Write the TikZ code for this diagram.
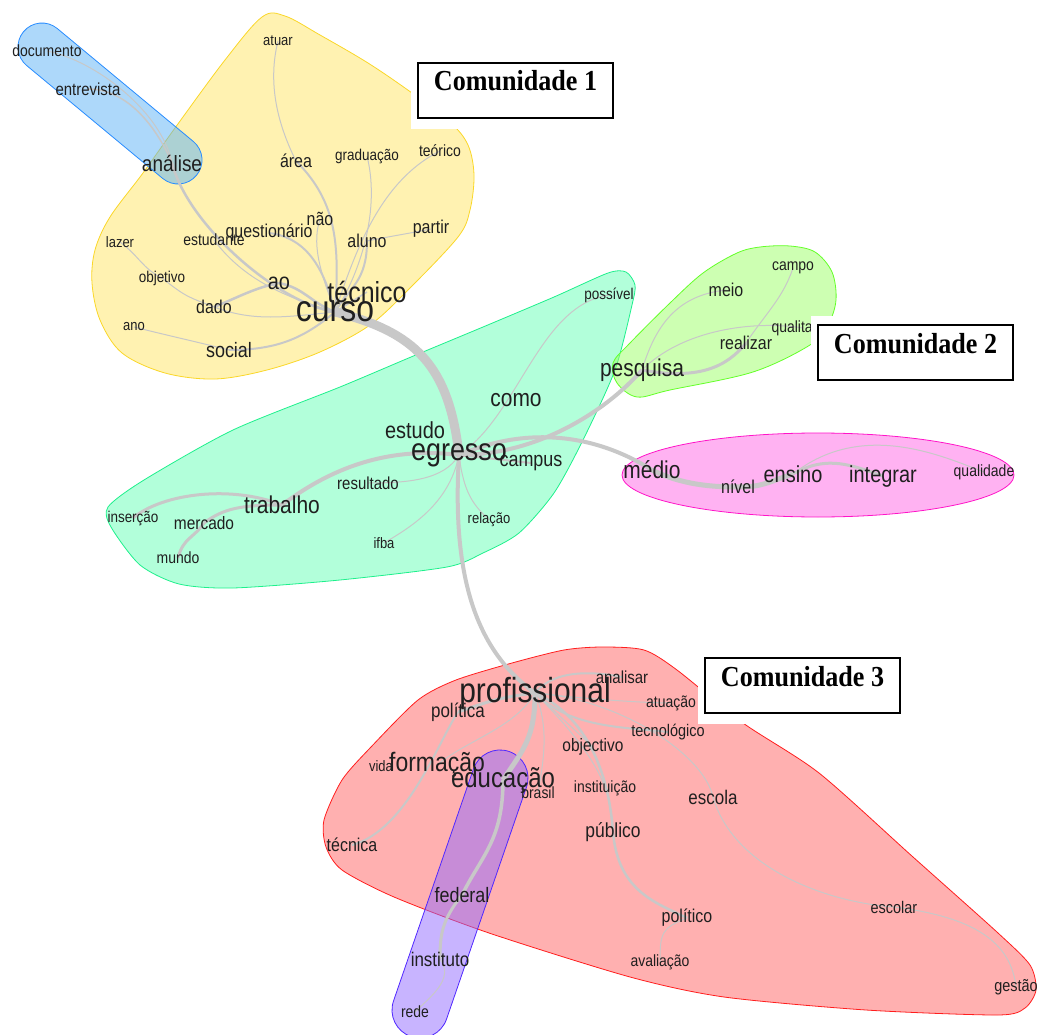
\documentclass[tikz,border=0pt]{standalone}
\usepackage{fontspec}
\setmainfont{Liberation Serif}[FakeStretch=0.9]
\setsansfont{Liberation Sans}[FakeStretch=0.86]
\definecolor{edgegray}{RGB}{200,200,200}
\definecolor{c1line}{RGB}{250,215,40}  \definecolor{c1fill}{RGB}{255,229,100}
\definecolor{c2line}{RGB}{40,140,255}  \definecolor{c2fill}{RGB}{91,177,245}
\definecolor{c3line}{RGB}{30,240,140}  \definecolor{c3fill}{RGB}{101,255,181}
\definecolor{c4line}{RGB}{100,255,40}  \definecolor{c4fill}{RGB}{155,255,101}
\definecolor{c5line}{RGB}{255,20,200}  \definecolor{c5fill}{RGB}{255,101,229}
\definecolor{c6line}{RGB}{255,30,30}   \definecolor{c6fill}{RGB}{255,97,97}
\definecolor{c7line}{RGB}{80,40,255}   \definecolor{c7fill}{RGB}{145,105,255}
\pgfdeclarelayer{hulllayer}
\pgfdeclarelayer{edgelayer}
\pgfsetlayers{hulllayer,edgelayer,main}
\newcommand{\fsz}[1]{\pgfmathsetmacro\fszv{#1*1.16}\fontsize{\fszv}{\fszv}\selectfont}
\begin{document}
\begin{tikzpicture}[x=1pt,y=-1pt,
  wd/.style={inner sep=0pt, text=black!88, font=\sffamily\fsz{#1}},
  ln/.style={draw=edgegray, line width=#1},
  hull/.style={draw=#1line, fill=#1fill, fill opacity=0.5, line width=0.8pt},
  comm/.style={draw, line width=2pt, fill=white, font=\bfseries\fontsize{29}{29}\selectfont,
    minimum width=195pt, inner sep=0pt, text height=28pt, text depth=27pt}]
\useasboundingbox (0,0) rectangle (1039,1035);
% comunidades
\begin{pgfonlayer}{hulllayer}
\filldraw[hull=c1] plot[smooth cycle, tension=0.55] coordinates {(262,17) (285,16) (320,35) (368,63) (412,93) (450,122) (468,145) (474,175) (470,210) (458,237) (410,288) (370,325) (320,352) (267,370) (215,379) (165,373) (122,353) (100,320) (92,283) (95,250) (110,217) (143,173) (175,128) (225,60)};
\filldraw[hull=c2, rounded corners=24pt] (8.2,50.2) -- (181.2,193.8) -- (211.8,156.8) -- (38.8,13.2) -- cycle;
\filldraw[hull=c3] plot[smooth cycle, tension=0.45] coordinates {(608,273) (626,272) (635,285) (632,305) (615,370) (583,440) (554,493) (519,533) (483,553) (447,567) (340,580) (233,588) (179,584) (140,565) (111,527) (108,507) (144,480) (233,430) (340,387) (411,357) (483,327) (554,297)};
\filldraw[hull=c4] plot[smooth cycle, tension=0.55] coordinates {(760,247) (790,246) (815,252) (832,272) (836,300) (828,325) (810,345) (753,372) (670,390) (637,397) (617,383) (613,363) (630,343) (670,303) (703,273) (737,253)};
\filldraw[hull=c5] (818,475) ellipse [x radius=196, y radius=42];
\filldraw[hull=c6] plot[smooth cycle, tension=0.45] coordinates {(564,650) (602,647) (644,650) (677,670) (743,723) (819,773) (913,857) (998,933) (1030,965) (1036,990) (1025,1008) (998,1015) (866,1010) (724,997) (630,977) (489,933) (394,897) (342,870) (326,847) (324,820) (342,780) (371,747) (418,700) (456,680) (512,663)};
\filldraw[hull=c7, rounded corners=28pt] (535.6,760.6) -- (437.4,1045.6) -- (384.4,1027.4) -- (482.6,742.4) -- cycle;
\end{pgfonlayer}
% palavras
\node[wd=14] (documento) at (47,51) {documento};
\node[wd=15] (entrevista) at (88,89) {entrevista};
\node[wd=19] (analise) at (172,163) {análise};
\node[wd=13] (atuar) at (278,41) {atuar};
\node[wd=16] (area) at (296,161) {área};
\node[wd=13.5] (graduacao) at (367,156) {graduação};
\node[wd=14] (teorico) at (440,151) {teórico};
\node[wd=16] (nao) at (320,219) {não};
\node[wd=14] (estudante) at (214,240) {estudante};
\node[wd=16] (questionario) at (269,233) {questionário};
\node[wd=16] (aluno) at (367,241) {aluno};
\node[wd=16] (partir) at (431,229) {partir};
\node[wd=13] (lazer) at (120,242) {lazer};
\node[wd=13.5] (objetivo) at (162,278) {objetivo};
\node[wd=20] (ao) at (279,283) {ao};
\node[wd=16] (dado) at (214,307) {dado};
\node[wd=13] (ano) at (134,327) {ano};
\node[wd=18] (social) at (229,350) {social};
\node[wd=25] (tecnico) at (367,292) {técnico};
\node[wd=32] (curso) at (335,312) {curso};
\node[wd=13.5] (possivel) at (609,295) {possível};
\node[wd=21] (como) at (516,400) {como};
\node[wd=20] (estudo) at (415,430) {estudo};
\node[wd=27] (egresso) at (459,455) {egresso};
\node[wd=18] (campus) at (531,463) {campus};
\node[wd=15] (resultado) at (368,483) {resultado};
\node[wd=21] (trabalho) at (282,505) {trabalho};
\node[wd=13.5] (insercao) at (133,518) {inserção};
\node[wd=15.5] (mercado) at (204,523) {mercado};
\node[wd=14] (mundo) at (178,558) {mundo};
\node[wd=13] (relacao) at (489,520) {relação};
\node[wd=13] (ifba) at (384,543) {ifba};
\node[wd=14] (campo) at (793,268) {campo};
\node[wd=16] (meio) at (726,290) {meio};
\node[wd=14] (qualitativo) at (803,328) {qualitativo};
\node[wd=16] (realizar) at (746,343) {realizar};
\node[wd=21] (pesquisa) at (642,370) {pesquisa};
\node[wd=21] (medio) at (652,470) {médio};
\node[wd=16] (nivel) at (738,487) {nível};
\node[wd=20] (ensino) at (793,474) {ensino};
\node[wd=20] (integrar) at (883,476) {integrar};
\node[wd=14] (qualidade) at (984,472) {qualidade};
\node[wd=15] (analisar) at (622,677) {analisar};
\node[wd=14] (atuacao) at (671,703) {atuação};
\node[wd=17] (politica) at (458,712) {política};
\node[wd=14.5] (tecnologico) at (668,732) {tecnológico};
\node[wd=15.5] (objectivo) at (593,747) {objectivo};
\node[wd=13] (vida) at (381,766) {vida};
\node[wd=23] (formacao) at (437,765) {formação};
\node[wd=14] (brasil) at (538,793) {brasil};
\node[wd=24] (educacao) at (503,780) {educação};
\node[wd=30] (profissional) at (535,693) {profissional};
\node[wd=14] (instituicao) at (605,788) {instituição};
\node[wd=17] (escola) at (713,797) {escola};
\node[wd=17.5] (publico) at (613,832) {público};
\node[wd=16] (tecnica) at (352,845) {técnica};
\node[wd=18] (federal) at (462,895) {federal};
\node[wd=16] (politico) at (687,918) {político};
\node[wd=14.5] (escolar) at (894,907) {escolar};
\node[wd=17] (instituto) at (440,959) {instituto};
\node[wd=14] (avaliacao) at (660,962) {avaliação};
\node[wd=14] (rede) at (415,1012) {rede};
\node[wd=14.5] (gestao) at (1016,987) {gestão};
% arestas
\begin{pgfonlayer}{edgelayer}
\draw[ln=1pt] (documento.center) .. controls +(50,10) and +(-10,-50) .. (analise.center);
\draw[ln=1.5pt] (entrevista.center) .. controls +(40,0) and +(-15,-35) .. (analise.center);
\draw[ln=2.5pt] (analise.center) .. controls +(15,60) and +(-60,-10) .. (curso.center);
\draw[ln=1pt] (atuar.center) .. controls +(-10,40) and +(-20,-40) .. (area.center);
\draw[ln=2pt] (area.center) .. controls +(40,40) and +(5,-70) .. (curso.center);
\draw[ln=1pt] (graduacao.center) .. controls +(15,60) and +(20,-30) .. (curso.center);
\draw[ln=1pt] (teorico.center) .. controls +(-60,30) and +(20,-60) .. (curso.center);
\draw[ln=1pt] (nao.center) .. controls +(-10,30) and +(-10,-30) .. (curso.center);
\draw[ln=2pt] (questionario.center) .. controls +(40,5) and +(-10,-40) .. (curso.center);
\draw[ln=1pt] (estudante.center) .. controls +(30,40) and +(-50,-15) .. (curso.center);
\draw[ln=2pt] (aluno.center) .. controls +(0,40) and +(15,-25) .. (curso.center);
\draw[ln=1pt] (partir.center) .. controls +(-25,5) and +(25,-5) .. (aluno.center);
\draw[ln=1pt] (lazer.center) .. controls +(20,15) and +(-20,-10) .. (objetivo.center);
\draw[ln=1pt] (objetivo.center) .. controls +(25,20) and +(-25,-10) .. (dado.center);
\draw[ln=1pt] (dado.center) .. controls +(40,15) and +(-50,5) .. (curso.center);
\draw[ln=2.5pt] (dado.center) .. controls +(25,-10) and +(-25,5) .. (ao.center);
\draw[ln=2.5pt] (ao.center) .. controls +(25,5) and +(-25,-10) .. (curso.center);
\draw[ln=1pt] (ano.center) .. controls +(40,10) and +(-40,-10) .. (social.center);
\draw[ln=2pt] (social.center) .. controls +(50,0) and +(-30,25) .. (curso.center);
\draw[ln=1.5pt] (tecnico.center) -- (curso.center);
\draw[ln=9pt] (curso.center) .. controls +(80,20) and +(-10,-90) .. (egresso.center);
\draw[ln=4pt] (egresso.center) .. controls +(-80,-10) and +(40,-30) .. (trabalho.center);
\draw[ln=3pt] (trabalho.center) .. controls +(-50,-20) and +(30,-25) .. (insercao.center);
\draw[ln=3pt] (trabalho.center) .. controls +(-40,0) and +(20,-15) .. (mercado.center);
\draw[ln=3pt] (mercado.center) .. controls +(-10,15) and +(5,-20) .. (mundo.center);
\draw[ln=1pt] (egresso.center) .. controls +(-15,25) and +(40,0) .. (resultado.center);
\draw[ln=1pt] (egresso.center) .. controls +(-10,50) and +(25,-15) .. (ifba.center);
\draw[ln=1pt] (egresso.center) .. controls +(5,40) and +(-15,-15) .. (relacao.center);
\draw[ln=1pt] (egresso.center) .. controls +(60,-40) and +(-70,10) .. (possivel.center);
\draw[ln=2pt] (egresso.center) -- (campus.center);
\draw[ln=4pt] (egresso.center) .. controls +(80,0) and +(-35,40) .. (pesquisa.center);
\draw[ln=4pt] (egresso.center) .. controls +(70,-30) and +(-55,-35) .. (medio.center);
\draw[ln=4pt] (egresso.center) .. controls +(-8,130) and +(-55,-40) .. (profissional.center);
\draw[ln=3pt] (pesquisa.center) .. controls +(55,10) and +(-20,25) .. (realizar.center);
\draw[ln=1pt] (realizar.center) .. controls +(20,-30) and +(-10,30) .. (campo.center);
\draw[ln=1pt] (pesquisa.center) .. controls +(15,-50) and +(-45,5) .. (meio.center);
\draw[ln=1pt] (pesquisa.center) .. controls +(40,-40) and +(-50,-8) .. (qualitativo.center);
\draw[ln=5pt] (medio.center) .. controls +(30,15) and +(-25,0) .. (nivel.center);
\draw[ln=5pt] (nivel.center) .. controls +(25,0) and +(-25,8) .. (ensino.center);
\draw[ln=3pt] (ensino.center) .. controls +(35,-20) and +(-30,-10) .. (integrar.center);
\draw[ln=1pt] (ensino.center) .. controls +(70,-55) and +(-40,-15) .. (qualidade.center);
\draw[ln=5pt] (profissional.center) .. controls +(0,45) and +(20,-30) .. (educacao.center);
\draw[ln=3.5pt] (educacao.center) .. controls +(0,60) and +(20,-40) .. (federal.center);
\draw[ln=3pt] (federal.center) .. controls +(-20,25) and +(0,-25) .. (instituto.center);
\draw[ln=1pt] (instituto.center) .. controls +(15,20) and +(15,-15) .. (rede.center);
\draw[ln=3pt] (profissional.center) .. controls +(-40,5) and +(30,-10) .. (politica.center);
\draw[ln=2pt] (politica.center) .. controls +(-20,30) and +(55,-15) .. (tecnica.center);
\draw[ln=1pt] (profissional.center) .. controls +(-20,35) and +(30,-25) .. (formacao.center);
\draw[ln=1pt] (profissional.center) .. controls +(15,35) and +(5,-30) .. (brasil.center);
\draw[ln=2pt] (profissional.center) .. controls +(20,-25) and +(-25,-5) .. (analisar.center);
\draw[ln=1pt] (profissional.center) .. controls +(40,5) and +(-30,0) .. (atuacao.center);
\draw[ln=2pt] (profissional.center) .. controls +(35,35) and +(-45,-5) .. (tecnologico.center);
\draw[ln=2.5pt] (profissional.center) .. controls +(45,20) and +(-5,-70) .. (publico.center);
\draw[ln=2.5pt] (publico.center) .. controls +(5,60) and +(-30,-15) .. (politico.center);
\draw[ln=1pt] (politico.center) .. controls +(-25,10) and +(0,-30) .. (avaliacao.center);
\draw[ln=1pt] (profissional.center) .. controls +(80,5) and +(-10,-45) .. (escola.center);
\draw[ln=1pt] (escola.center) .. controls +(20,70) and +(-70,-5) .. (escolar.center);
\draw[ln=1pt] (escolar.center) .. controls +(80,10) and +(-5,-45) .. (gestao.center);
\draw[ln=1pt] (profissional.center) -- (objectivo.center);
\draw[ln=1pt] (profissional.center) .. controls +(30,30) and +(-10,-30) .. (instituicao.center);
\end{pgfonlayer}
% caixas
\foreach \nm/\px/\py/\lbl in {c1/417/62/1, c2/817/324/2, c3/704/657/3}{
  \fill[white] (\px-6,\py-8) rectangle (\px+202,\py+67);
  \node[comm, anchor=north west] (\nm) at (\px,\py) {Comunidade \lbl};
}
\end{tikzpicture}
\end{document}
